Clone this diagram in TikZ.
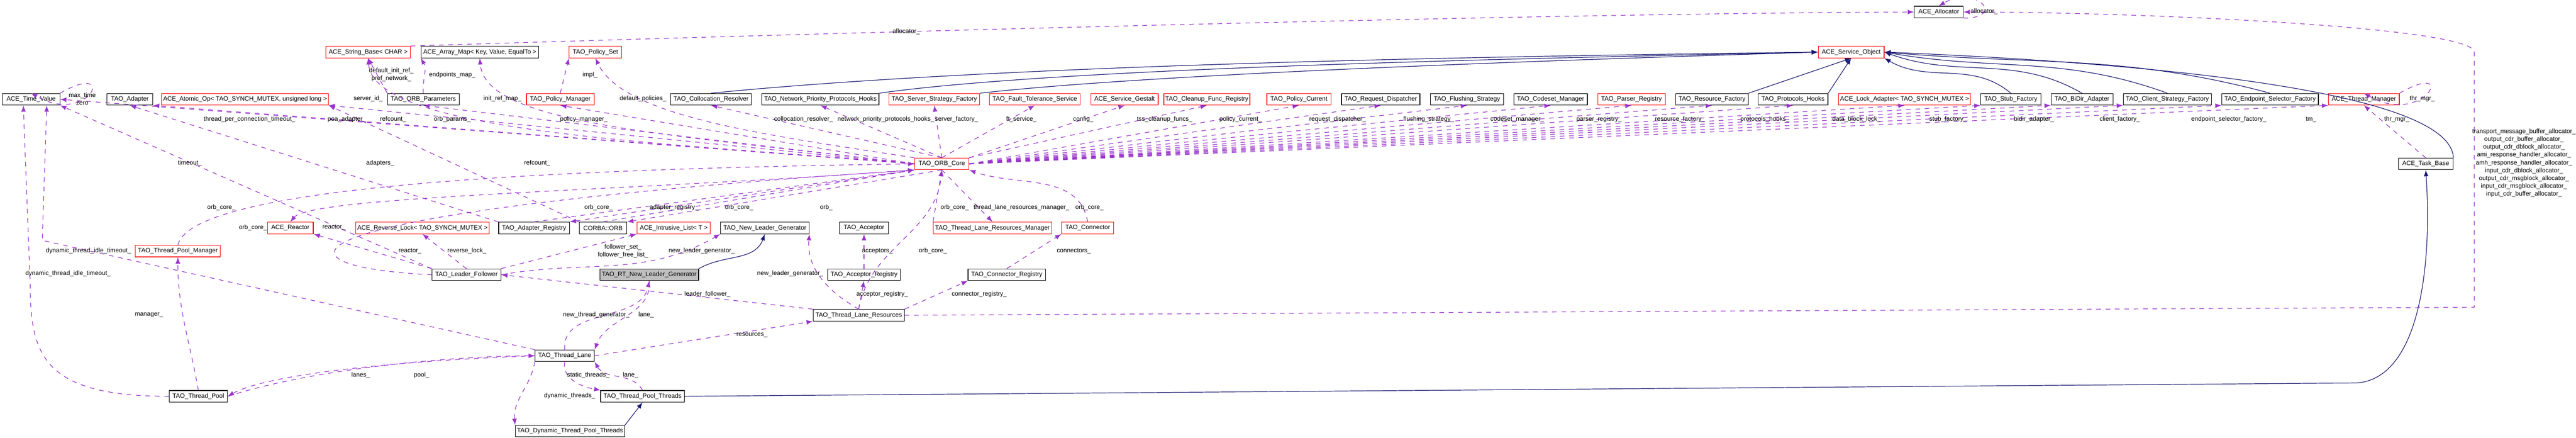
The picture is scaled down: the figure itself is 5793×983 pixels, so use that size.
\documentclass[tikz,border=0pt]{standalone}
\usepackage{fontspec}
\setmainfont{Liberation Sans}
\usepackage{tikz}
\usetikzlibrary{arrows}

\definecolor{membercol}{RGB}{153,51,204}
\definecolor{basecol}{RGB}{25,25,112}

\tikzset{
  cls/.style={draw=black,fill=white,minimum height=0.26cm,inner sep=1pt,
    font=\fontsize{4}{5}\selectfont},
  incomplete/.style={cls,draw=red},
  focus/.style={cls,fill=black!25},
  member/.style={->,dashed,draw=membercol,thin},
  inherit/.style={->,draw=basecol,thin},
  lbl/.style={font=\fontsize{4}{5}\selectfont,inner sep=0pt,align=center}
}

\begin{document}
\begin{tikzpicture}[>=latex,
            x=0.01cm,
            y=-0.01cm]

        \useasboundingbox (0,0) rectangle (5793,983);

        % top rows
        \node[cls]        (alloc)     at (4360,27)  [minimum width=1.10cm] {ACE\_Allocator};
        \node[incomplete] (strbase)   at (828,117)  [minimum width=1.90cm] {ACE\_String\_Base< CHAR >};
        \node[cls]        (arraymap)  at (1079,117) [minimum width=2.64cm] {ACE\_Array\_Map< Key, Value, EqualTo >};
        \node[incomplete] (policyset) at (1339,117) [minimum width=1.18cm] {TAO\_Policy\_Set};
        \node[incomplete] (svcobj)    at (4163,117) [minimum width=1.48cm] {ACE\_Service\_Object};

        \node[cls]        (timevalue)   at (70,223)   [minimum width=1.29cm] {ACE\_Time\_Value};
        \node[cls]        (adapter)     at (292,223)  [minimum width=1.03cm] {TAO\_Adapter};
        \node[incomplete] (atomicop)    at (551,223)  [minimum width=3.70cm] {ACE\_Atomic\_Op< TAO\_SYNCH\_MUTEX, unsigned long >};
        \node[cls]        (orbparams)   at (952,223)  [minimum width=1.61cm] {TAO\_ORB\_Parameters};
        \node[incomplete] (policymgr)   at (1260,223) [minimum width=1.52cm] {TAO\_Policy\_Manager};
        \node[cls]        (collres)     at (1599,223) [minimum width=1.82cm] {TAO\_Collocation\_Resolver};
        \node[cls]        (nethooks)    at (1845,223) [minimum width=2.63cm] {TAO\_Network\_Priority\_Protocols\_Hooks};
        \node[incomplete] (serverfac)   at (2101,223) [minimum width=2.04cm] {TAO\_Server\_Strategy\_Factory};
        \node[incomplete] (ftservice)   at (2327,223) [minimum width=2.04cm] {TAO\_Fault\_Tolerance\_Service};
        \node[incomplete] (gestalt)     at (2529,223) [minimum width=1.51cm] {ACE\_Service\_Gestalt};
        \node[incomplete] (cleanup)     at (2714,223) [minimum width=1.72cm] {TAO\_Cleanup\_Func\_Registry};
        \node[incomplete] (policycur)   at (2921,223) [minimum width=1.44cm] {TAO\_Policy\_Current};
        \node[cls]        (reqdisp)     at (3105,223) [minimum width=1.76cm] {TAO\_Request\_Dispatcher};
        \node[cls]        (flushing)    at (3299,223) [minimum width=1.64cm] {TAO\_Flushing\_Strategy};
        \node[cls]        (codeset)     at (3487,223) [minimum width=1.65cm] {TAO\_Codeset\_Manager};
        \node[incomplete] (parser)      at (3669,223) [minimum width=1.52cm] {TAO\_Parser\_Registry};
        \node[cls]        (resfac)      at (3850,223) [minimum width=1.63cm] {TAO\_Resource\_Factory};
        \node[cls]        (protohooks)  at (4032,223) [minimum width=1.57cm] {TAO\_Protocols\_Hooks};
        \node[incomplete] (lockadapter) at (4283,223) [minimum width=2.96cm] {ACE\_Lock\_Adapter< TAO\_SYNCH\_MUTEX >};
        \node[cls]        (stubfac)     at (4522,223) [minimum width=1.35cm] {TAO\_Stub\_Factory};
        \node[cls]        (bidir)       at (4682,223) [minimum width=1.39cm] {TAO\_BiDir\_Adapter};
        \node[cls]        (clientfac)   at (4874,223) [minimum width=1.98cm] {TAO\_Client\_Strategy\_Factory};
        \node[cls]        (epsel)       at (5105,223) [minimum width=2.17cm] {TAO\_Endpoint\_Selector\_Factory};
        \node[incomplete] (thrmgr)      at (5316,223) [minimum width=1.59cm] {ACE\_Thread\_Manager};

        \node[incomplete] (orbcore)  at (2118,368) [minimum width=1.22cm] {TAO\_ORB\_Core};
        \node[cls]        (taskbase) at (5455,368) [minimum width=1.23cm] {ACE\_Task\_Base};

        % lower rows
        \node[incomplete] (reactor)    at (653,512)  [minimum width=1.03cm] {ACE\_Reactor};
        \node[incomplete] (revlock)    at (950,512)  [minimum width=2.98cm] {ACE\_Reverse\_Lock< TAO\_SYNCH\_MUTEX >};
        \node[cls]        (adapterreg) at (1201,512) [minimum width=1.59cm] {TAO\_Adapter\_Registry};
        \node[cls]        (orb)        at (1356,512) [minimum width=1.07cm] {CORBA::ORB};
        \node[incomplete] (intrlist)   at (1515,512) [minimum width=1.65cm] {ACE\_Intrusive\_List< T >};
        \node[cls]        (newleader)  at (1720,512) [minimum width=1.99cm] {TAO\_New\_Leader\_Generator};
        \node[cls]        (acceptor)   at (1943,512) [minimum width=1.10cm] {TAO\_Acceptor};
        \node[incomplete] (tlrmgr)     at (2232,512) [minimum width=2.66cm] {TAO\_Thread\_Lane\_Resources\_Manager};
        \node[incomplete] (connector)  at (2446,512) [minimum width=1.17cm] {TAO\_Connector};

        \node[incomplete] (tpmgr)      at (400,564)  [minimum width=1.91cm] {TAO\_Thread\_Pool\_Manager};
        \node[cls]        (leaderfol)  at (1049,617) [minimum width=1.55cm] {TAO\_Leader\_Follower};
        \node[focus]      (rtnlg)      at (1460,617) [minimum width=2.22cm] {TAO\_RT\_New\_Leader\_Generator};
        \node[cls]        (accreg)     at (1943,617) [minimum width=1.64cm] {TAO\_Acceptor\_Registry};
        \node[cls]        (connreg)    at (2264,617) [minimum width=1.74cm] {TAO\_Connector\_Registry};
        \node[cls]        (tlr)        at (1931,708) [minimum width=2.05cm] {TAO\_Thread\_Lane\_Resources};
        \node[cls]        (threadlane) at (1270,799) [minimum width=1.33cm] {TAO\_Thread\_Lane};
        \node[cls]        (threadpool) at (446,890)  [minimum width=1.31cm] {TAO\_Thread\_Pool};
        \node[cls]        (tpthreads)  at (1445,890) [minimum width=1.88cm] {TAO\_Thread\_Pool\_Threads};
        \node[cls]        (dynthreads) at (1282,968) [minimum width=2.46cm] {TAO\_Dynamic\_Thread\_Pool\_Threads};

        \coordinate (allocdrop) at (5564,690);
        \coordinate (alloctop)  at (5564,117);
        \coordinate (tvleft)    at (68,640);
        \coordinate (tvmid)     at (95,540);
        \coordinate (tpbend)    at (5300,860);

        % inheritance
        \draw[inherit] (collres.north) .. controls (2300,140) and (3500,125) .. (svcobj.west);
        \draw[inherit] (nethooks.north east) .. controls (2400,150) and (3500,130) .. (svcobj.west);
        \draw[inherit] (serverfac.north east) .. controls (2600,165) and (3500,135) .. (svcobj.west);
        \draw[inherit] (resfac.north east) -- (svcobj.south);
        \draw[inherit] (protohooks.north east) -- (svcobj.south);
        \draw[inherit] (stubfac.north) to[out=140,in=-30] (svcobj.south east);
        \draw[inherit] (bidir.north) to[out=150,in=-20] (svcobj.east);
        \draw[inherit] (clientfac.north) to[out=160,in=-10] (svcobj.east);
        \draw[inherit] (epsel.north) to[out=165,in=-5] (svcobj.east);
        \draw[inherit] (taskbase.north east) .. controls (5510,200) and (4800,140) .. (svcobj.east);
        \draw[inherit] (rtnlg.north east) to[out=30,in=-110] (newleader.south);
        \draw[inherit] (dynthreads.north east) -- (tpthreads.south);
        \draw[inherit] (tpthreads.east) -- (tpbend) .. controls (5440,850) and (5470,600) .. (taskbase.south);

        % members of the ORB core
        \draw[member] (orbcore.west) -- (timevalue.east);
        \draw[member] (orbcore.west) -- (adapter.south east);
        \draw[member] (orbcore.west) -- (atomicop.south east);
        \draw[member] (orbcore.west) -- (orbparams.south);
        \draw[member] (orbcore.west) .. controls (1500,320) and (840,300) .. (strbase.south);
        \draw[member] (orbcore.west) .. controls (1500,300) and (1090,280) .. (arraymap.south);
        \draw[member] (orbcore.north west) .. controls (1700,300) and (1400,260) .. (policyset.south);
        \draw[member] (orbcore.west) -- (policymgr.south);
        \draw[member] (orbcore.north) -- (collres.south);
        \draw[member] (orbcore.north) -- (nethooks.south);
        \draw[member] (orbcore.north) -- (serverfac.south);
        \draw[member] (orbcore.north) -- (ftservice.south);
        \draw[member] (orbcore.north east) -- (gestalt.south);
        \draw[member] (orbcore.north east) -- (cleanup.south);
        \draw[member] (orbcore.east) -- (policycur.south);
        \draw[member] (orbcore.east) -- (reqdisp.south);
        \draw[member] (orbcore.east) -- (flushing.south);
        \draw[member] (orbcore.east) -- (codeset.south);
        \draw[member] (orbcore.east) -- (parser.south);
        \draw[member] (orbcore.east) -- (resfac.south);
        \draw[member] (orbcore.east) -- (protohooks.south);
        \draw[member] (orbcore.east) -- (lockadapter.south);
        \draw[member] (orbcore.east) -- (stubfac.south west);
        \draw[member] (orbcore.east) -- (bidir.south west);
        \draw[member] (orbcore.east) -- (clientfac.south west);
        \draw[member] (orbcore.east) -- (epsel.south west);
        \draw[member] (orbcore.east) -- (thrmgr.south west);
        \draw[member] (orbcore.south west) -- (adapterreg.north east);
        \draw[member] (orbcore.south) -- (orb.north east);
        \draw[member] (orbcore.south) -- (tlrmgr.north);
        \draw[member] (orbcore.south west) .. controls (1400,430) and (700,440) .. (reactor.north);

        % members pointing back to the ORB core
        \draw[member] (tpmgr.north) .. controls (430,420) and (1200,380) .. (orbcore.west);
        \draw[member] (leaderfol.west) .. controls (600,600) and (550,480) .. (orbcore.south west);
        \draw[member] (adapterreg.north) -- (orbcore.south west);
        \draw[member] (orb.north) -- (orbcore.south west);
        \draw[member] (tlrmgr.north west) -- (orbcore.south);
        \draw[member] (connector.north) to[out=100,in=-20] (orbcore.south east);
        \draw[member] (tlr.north) to[out=80,in=-95] (orbcore.south);

        % other members
        \draw[member] (timevalue.north east) to[out=30,in=-30,looseness=6] (timevalue.north);
        \draw[member] (thrmgr.north east) to[out=30,in=-30,looseness=5] (thrmgr.north);
        \draw[member] (alloc.south east) to[out=0,in=30,looseness=4] (alloc.north);
        \draw[member] (taskbase.north) -- (thrmgr.south);
        \draw[member] (strbase.north east) .. controls (2000,70) and (3500,30) .. (alloc.west);
        \draw[member] (orbparams.north west) -- (strbase.south);
        \draw[member] (orbparams.north) to[out=95,in=-60] (arraymap.south west);
        \draw[member] (policymgr.north) -- (policyset.south west);
        \draw[member] (adapterreg.north west) -- (adapter.south);
        \draw[member] (orb.north west) -- (atomicop.south east);
        \draw[member] (leaderfol.north west) -- (reactor.south east);
        \draw[member] (leaderfol.north) -- (revlock.south);
        \draw[member] (leaderfol.north east) -- (intrlist.south west);
        \draw[member] (leaderfol.east) to[out=10,in=-150] (newleader.south west);
        \draw[member] (leaderfol.north west) -- (timevalue.south east);
        \draw[member] (accreg.north) -- (acceptor.south);
        \draw[member] (connreg.north) -- (connector.south west);
        \draw[member] (tlr.north west) -- (leaderfol.east);
        \draw[member] (tlr.north) to[out=150,in=-95] (newleader.south east);
        \draw[member] (tlr.north) -- (accreg.south);
        \draw[member] (tlr.north east) -- (connreg.south west);
        \draw[member] (tlr.east) -- (allocdrop) -- (alloctop) .. controls (5564,60) and (4800,27) .. (alloc.east);
        \draw[member] (threadlane.north) to[out=95,in=-100] (rtnlg.south);
        \draw[member] (rtnlg.south) to[out=-85,in=70] (threadlane.north east);
        \draw[member] (threadlane.east) -- (tlr.south west);
        \draw[member] (threadlane.north west) -- (tvmid) -- ([xshift=10]timevalue.south);
        \draw[member] (threadlane.south) to[out=-100,in=170] (tpthreads.north west);
        \draw[member] (tpthreads.north) to[out=120,in=-60] (threadlane.south east);
        \draw[member] (threadlane.south west) to[out=-100,in=95] (dynthreads.north west);
        \draw[member] (threadlane.west) .. controls (900,810) and (600,840) .. (threadpool.east);
        \draw[member] (threadpool.east) .. controls (700,830) and (1000,800) .. (threadlane.west);
        \draw[member] (threadpool.west) .. controls (100,890) and (68,800) .. (tvleft) -- ([xshift=-5]timevalue.south);
        \draw[member] (threadpool.north) to[out=100,in=-90] (tpmgr.south);

        % labels
        \node[lbl] at (185,222)  {max\_time\\zero};
        \node[lbl] at (561,268)  {thread\_per\_connection\_timeout\_};
        \node[lbl] at (780,268)  {poa\_adapter\_};
        \node[lbl] at (884,268)  {refcount\_};
        \node[lbl] at (1017,268) {orb\_params\_};
        \node[lbl] at (880,168)  {default\_init\_ref\_\\pref\_network\_};
        \node[lbl] at (828,222)  {server\_id\_};
        \node[lbl] at (1017,168) {endpoints\_map\_};
        \node[lbl] at (1130,222) {init\_ref\_map\_};
        \node[lbl] at (1327,168) {impl\_};
        \node[lbl] at (1446,222) {default\_policies\_};
        \node[lbl] at (1313,268) {policy\_manager\_};
        \node[lbl] at (2038,71)  {allocator\_};
        \node[lbl] at (427,367)  {timeout\_};
        \node[lbl] at (855,367)  {adapters\_};
        \node[lbl] at (1208,367) {refcount\_};
        \node[lbl] at (1807,268) {collocation\_resolver\_};
        \node[lbl] at (1992,268) {network\_priority\_protocols\_hooks\_};
        \node[lbl] at (2151,268) {server\_factory\_};
        \node[lbl] at (2297,268) {ft\_service\_};
        \node[lbl] at (2436,268) {config\_};
        \node[lbl] at (2619,268) {tss\_cleanup\_funcs\_};
        \node[lbl] at (2790,268) {policy\_current\_};
        \node[lbl] at (3008,268) {request\_dispatcher\_};
        \node[lbl] at (3213,268) {flushing\_strategy\_};
        \node[lbl] at (3412,268) {codeset\_manager\_};
        \node[lbl] at (3596,268) {parser\_registry\_};
        \node[lbl] at (3778,268) {resource\_factory\_};
        \node[lbl] at (3969,268) {protocols\_hooks\_};
        \node[lbl] at (4175,268) {data\_block\_lock\_};
        \node[lbl] at (4381,268) {stub\_factory\_};
        \node[lbl] at (4574,268) {bidir\_adapter\_};
        \node[lbl] at (4767,268) {client\_factory\_};
        \node[lbl] at (5012,268) {endpoint\_selector\_factory\_};
        \node[lbl] at (5197,268) {tm\_};
        \node[lbl] at (5390,268) {thr\_mgr\_};
        \node[lbl] at (5447,222) {thr\_mgr\_};
        \node[lbl] at (4462,26)  {allocator\_};
        \node[lbl] at (5676,366) {transport\_message\_buffer\_allocator\_\\output\_cdr\_buffer\_allocator\_\\output\_cdr\_dblock\_allocator\_\\ami\_response\_handler\_allocator\_\\amh\_response\_handler\_allocator\_\\input\_cdr\_dblock\_allocator\_\\output\_cdr\_msgblock\_allocator\_\\input\_cdr\_msgblock\_allocator\_\\input\_cdr\_buffer\_allocator\_};
        \node[lbl] at (498,466)  {orb\_core\_};
        \node[lbl] at (1346,466) {orb\_core\_};
        \node[lbl] at (1516,466) {adapter\_registry\_};
        \node[lbl] at (1662,466) {orb\_core\_};
        \node[lbl] at (1858,466) {orb\_};
        \node[lbl] at (2147,466) {orb\_core\_};
        \node[lbl] at (2297,466) {thread\_lane\_resources\_manager\_};
        \node[lbl] at (2450,466) {orb\_core\_};
        \node[lbl] at (569,511)  {orb\_core\_};
        \node[lbl] at (751,511)  {reactor\_};
        \node[lbl] at (199,564)  {dynamic\_thread\_idle\_timeout\_};
        \node[lbl] at (153,615)  {dynamic\_thread\_idle\_timeout\_};
        \node[lbl] at (922,564)  {reactor\_};
        \node[lbl] at (1050,564) {reverse\_lock\_};
        \node[lbl] at (1401,564) {follower\_set\_\\follower\_free\_list\_};
        \node[lbl] at (1578,564) {new\_leader\_generator\_};
        \node[lbl] at (1973,564) {acceptors\_};
        \node[lbl] at (2098,564) {orb\_core\_};
        \node[lbl] at (2415,564) {connectors\_};
        \node[lbl] at (1777,615) {new\_leader\_generator\_};
        \node[lbl] at (1591,661) {leader\_follower\_};
        \node[lbl] at (1984,661) {acceptor\_registry\_};
        \node[lbl] at (2202,661) {connector\_registry\_};
        \node[lbl] at (335,707)  {manager\_};
        \node[lbl] at (1341,707) {new\_thread\_generator\_};
        \node[lbl] at (1453,707) {lane\_};
        \node[lbl] at (1691,752) {resources\_};
        \node[lbl] at (811,843)  {lanes\_};
        \node[lbl] at (948,843)  {pool\_};
        \node[lbl] at (1323,843) {static\_threads\_};
        \node[lbl] at (1418,843) {lane\_};
        \node[lbl] at (1281,889) {dynamic\_threads\_};

    \end{tikzpicture}
\end{document}
